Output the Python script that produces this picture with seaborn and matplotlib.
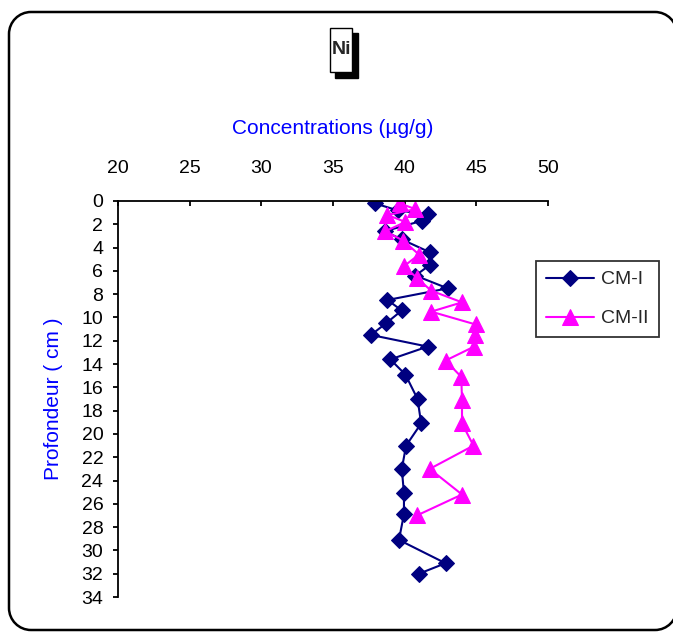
import matplotlib
matplotlib.use("Agg")
import matplotlib.pyplot as plt
import seaborn as sns
import pandas as pd
from matplotlib.patches import Rectangle, PathPatch
from matplotlib.path import Path

# ---- data ----
cm1_depth = [0.2, 0.8, 1.15, 1.7, 2.6, 3.3, 4.4, 5.5, 6.4, 7.5, 8.5, 9.4, 10.5,
             11.5, 12.5, 13.6, 14.9, 17.0, 19.1, 21.0, 23.0, 25.1, 26.9, 29.1, 31.1, 32.0]
cm1_conc = [37.9, 39.5, 41.6, 41.2, 38.6, 39.8, 41.75, 41.75, 40.75, 43.0, 38.8, 39.8, 38.7,
            37.65, 41.6, 39.0, 40.05, 40.9, 41.15, 40.1, 39.8, 39.95, 39.95, 39.6, 42.85, 41.0]
cm2_depth = [0.2, 0.7, 1.2, 1.8, 2.6, 3.4, 4.6, 5.6, 6.6, 7.7, 8.7, 9.5, 10.6,
             11.5, 12.5, 13.7, 15.1, 17.1, 19.1, 21.0, 23.0, 25.2, 27.0]
cm2_conc = [39.65, 40.75, 38.8, 40.05, 38.65, 39.9, 41.0, 39.95, 40.85, 41.85, 44.0, 41.85, 44.95,
            44.9, 44.85, 42.85, 43.95, 44.0, 44.0, 44.8, 41.75, 44.0, 40.85]
x_ticks = [20, 25, 30, 35, 40, 45, 50]
y_ticks = list(range(0, 36, 2))

sns.set_style("white")
plt.rcParams["font.family"] = ["Liberation Sans", "DejaVu Sans"]

fig = plt.figure(figsize=(6.73, 6.32), dpi=100)
W, H = 673, 632

def fx(px):
    return px / W

def fy(py):
    return 1 - py / H

# overlay in pixel units for the decorative frame
bg = fig.add_axes([0, 0, 1, 1], zorder=-1)
bg.set_xlim(0, W)
bg.set_ylim(H, 0)
bg.axis("off")

x0, y0, x1, y1, r = 9, 12, 677, 630, 22
k = 0.5523 * r
verts = [(x1, y1 - r),
         (x1, y1 - r + k), (x1 - r + k, y1), (x1 - r, y1),
         (x0 + r, y1),
         (x0 + r - k, y1), (x0, y1 - r + k), (x0, y1 - r),
         (x0, y0 + r),
         (x0, y0 + r - k), (x0 + r - k, y0), (x0 + r, y0),
         (x1 - r, y0),
         (x1 - r + k, y0), (x1, y0 + r - k), (x1, y0 + r)]
codes = ([Path.MOVETO] + [Path.CURVE4] * 3 + [Path.LINETO] + [Path.CURVE4] * 3 +
         [Path.LINETO] + [Path.CURVE4] * 3 + [Path.LINETO] + [Path.CURVE4] * 3)
bg.add_patch(PathPatch(Path(verts, codes), fill=False, lw=1.8, edgecolor="black", clip_on=False))

bg.add_patch(Rectangle((335, 33), 23, 45, facecolor="black", edgecolor="black"))
bg.add_patch(Rectangle((330, 28), 22, 44, facecolor="white", edgecolor="black", lw=1.0))
bg.text(341.5, 49, "Ni", ha="center", va="center", fontsize=14, fontweight="bold")

ax = fig.add_axes([fx(118), fy(597), fx(548) - fx(118), fy(201) - fy(597)])
ax.patch.set_alpha(0)

df1 = pd.DataFrame({"conc": cm1_conc, "depth": cm1_depth})
df2 = pd.DataFrame({"conc": cm2_conc, "depth": cm2_depth})

sns.lineplot(data=df1, x="conc", y="depth", sort=False, estimator=None, ax=ax,
             color="#000080", lw=1.5, marker="D", markersize=8.5,
             markeredgecolor="#000080", label="CM-I")
sns.lineplot(data=df2, x="conc", y="depth", sort=False, estimator=None, ax=ax,
             color="#FF00FF", lw=1.5, marker="^", markersize=11,
             markeredgecolor="#FF00FF", label="CM-II")

ax.set_xlim(20, 50)
ax.set_ylim(34, 0)
ax.set_xticks(x_ticks)
ax.set_yticks(y_ticks)
ax.xaxis.tick_top()
ax.xaxis.set_label_position("top")
for s in ["right", "bottom"]:
    ax.spines[s].set_visible(False)
for s in ["left", "top"]:
    ax.spines[s].set_color("black")
    ax.spines[s].set_linewidth(1.3)
ax.tick_params(axis="x", direction="in", length=3.5, width=1.3, labelsize=14, pad=17.5, colors="black")
ax.tick_params(axis="y", direction="out", length=3.6, width=1.3, labelsize=14, pad=7, colors="black")
ax.tick_params(axis="x", bottom=False, top=True)
ax.tick_params(axis="y", left=True)

ax.set_xlabel("Concentrations (µg/g)", color="#0000FF", fontsize=15)
ax.xaxis.set_label_coords(0.5, 1.169)
ax.set_ylabel("Profondeur ( cm )", color="#0000FF", fontsize=15)
ax.yaxis.set_label_coords(-0.127, 0.5)

leg = ax.legend(loc="upper left", bbox_to_anchor=(fx(536), fy(261)),
                bbox_transform=fig.transFigure, frameon=True, fancybox=False,
                edgecolor="black", fontsize=14, handlelength=2.5,
                borderpad=0.5, labelspacing=1.1, handletextpad=0.36,
                borderaxespad=0)
leg.get_frame().set_linewidth(1.3)

fig.savefig("out.png", dpi=100)
